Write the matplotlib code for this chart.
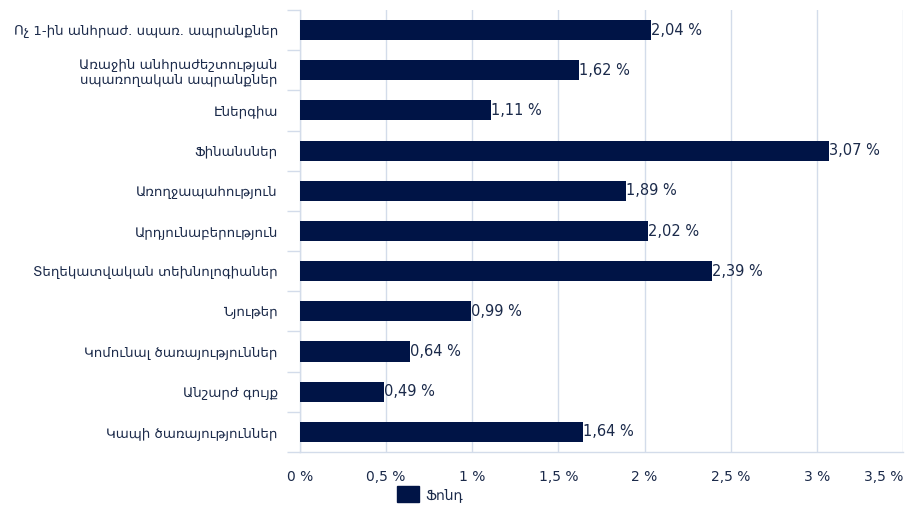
import matplotlib.pyplot as plt
from matplotlib.patches import Patch
import numpy as np

# Categories (top to bottom) and fund weights in %
categories = [
    "Ոչ 1-ին անհրաժ. սպառ. ապրանքներ",
    "Առաջին անհրաժեշտության\nսպառողական ապրանքներ",
    "Էներգիա",
    "Ֆինանսներ",
    "Առողջապահություն",
    "Արդյունաբերություն",
    "Տեղեկատվական տեխնոլոգիաներ",
    "Նյութեր",
    "Կոմունալ ծառայություններ",
    "Անշարժ գույք",
    "Կապի ծառայություններ",
]
values = [2.04, 1.62, 1.11, 3.07, 1.89, 2.02, 2.39, 0.99, 0.64, 0.49, 1.64]
x_ticks = [0, 0.5, 1, 1.5, 2, 2.5, 3, 3.5]
series_name = "Ֆոնդ"

bar_color = "#001446"
grid_color = "#d3dcea"
text_color = "#1b2a4a"

plt.rcParams['font.family'] = ['DejaVu Sans']

fig = plt.figure(figsize=(9.19, 5.12), dpi=100)
ax = fig.add_axes([300 / 919, 1 - 452 / 512, 603 / 919, 442 / 512])

y = np.arange(len(categories))
ax.barh(y, values, height=0.5, color=bar_color, zorder=3)

for yi, v in zip(y, values):
    ax.text(v, yi, f"{v:.2f}".replace(".", ",") + " %", va="center", ha="left",
            fontsize=10.5, color=text_color, zorder=4)

ax.set_xlim(0, 3.5)
ax.set_ylim(len(categories) - 0.5, -0.5)

ax.set_xticks(x_ticks)
ax.set_xticklabels([(f"{t:g}".replace(".", ",")) + " %" for t in x_ticks],
                   fontsize=10, color=text_color)
ax.get_xticklabels()[-1].set_ha("right")
ax.tick_params(axis="x", length=0, pad=13)

ax.set_yticks(y)
ax.set_yticklabels(categories, fontsize=9.6, color=text_color)
ax.set_yticks(np.arange(len(categories) + 1) - 0.5, minor=True)
ax.tick_params(axis="y", which="major", length=0, pad=16)
ax.tick_params(axis="y", which="minor", length=9.5, color=grid_color, width=1)

ax.grid(axis="x", color=grid_color, linewidth=1, zorder=0)
for s in ["top", "right"]:
    ax.spines[s].set_visible(False)
for s in ["left", "bottom"]:
    ax.spines[s].set_color(grid_color)
    ax.spines[s].set_linewidth(1)

fig.legend(handles=[Patch(color=bar_color, label=series_name)],
           loc="center", bbox_to_anchor=(430 / 919, 1 - 494 / 512),
           frameon=False, fontsize=10, handlelength=1.6, handleheight=1.4,
           handletextpad=0.5, labelcolor=text_color)

fig.savefig("out.png", dpi=100)
